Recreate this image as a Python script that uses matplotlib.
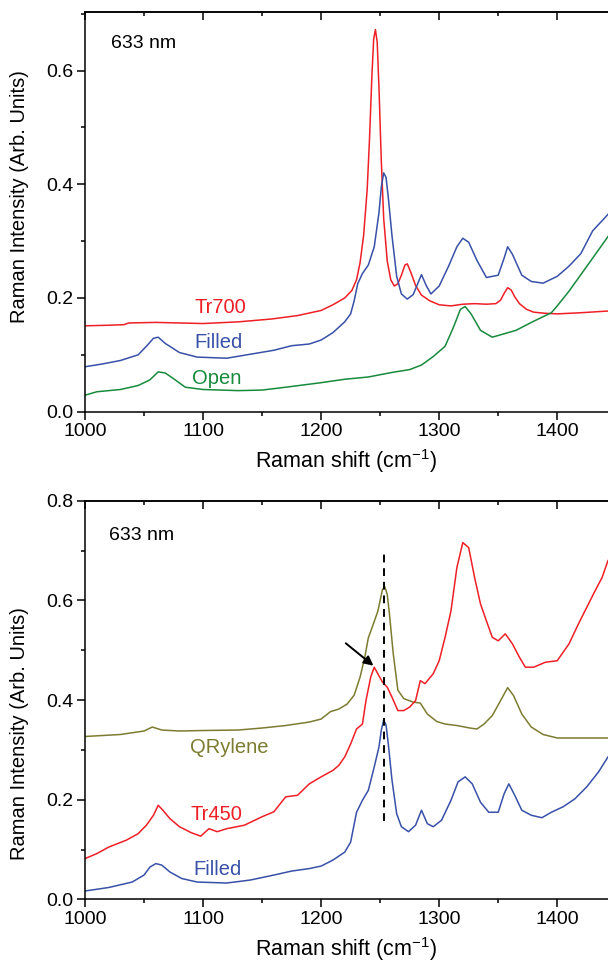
import matplotlib
matplotlib.use('Agg')
import matplotlib.pyplot as plt
from matplotlib.ticker import MultipleLocator

plt.rcParams['font.family'] = ['Liberation Sans', 'DejaVu Sans']
plt.rcParams['mathtext.fontset'] = 'custom'
plt.rcParams['mathtext.rm'] = 'Liberation Sans'

# ---- top panel: 633 nm, Tr700 / Filled / Open ----
tr700_x = [1000, 1020, 1033, 1037, 1060, 1100, 1130, 1158, 1180, 1200, 1210, 1220, 1226,
           1230, 1233, 1236, 1239, 1241, 1243, 1244.5, 1246, 1247.5, 1249, 1251, 1253,
           1256, 1259, 1262, 1265, 1268, 1271, 1273, 1276, 1280, 1285, 1292, 1300, 1310,
           1320, 1330, 1340, 1348, 1352, 1355, 1358, 1361, 1364, 1368, 1374, 1380, 1390,
           1400, 1420, 1443]
tr700_y = [0.151, 0.152, 0.153, 0.156, 0.157, 0.155, 0.158, 0.163, 0.169, 0.178, 0.188,
           0.200, 0.213, 0.232, 0.262, 0.310, 0.390, 0.480, 0.590, 0.655, 0.672, 0.650,
           0.570, 0.440, 0.340, 0.265, 0.232, 0.221, 0.225, 0.240, 0.258, 0.260, 0.245,
           0.222, 0.205, 0.195, 0.188, 0.186, 0.189, 0.190, 0.189, 0.190, 0.196, 0.208,
           0.218, 0.214, 0.202, 0.190, 0.180, 0.175, 0.173, 0.172, 0.174, 0.177]

filled_top_x = [1000, 1015, 1030, 1045, 1052, 1058, 1062, 1068, 1080, 1095, 1120, 1140,
                1160, 1175, 1190, 1200, 1210, 1220, 1225, 1228, 1231, 1235, 1240, 1245,
                1249, 1251, 1253, 1255, 1257, 1260, 1264, 1268, 1273, 1278, 1282, 1285,
                1289, 1293, 1300, 1308, 1315, 1320, 1325, 1332, 1340, 1350, 1355, 1358,
                1362, 1370, 1378, 1388, 1400, 1410, 1420, 1430, 1443]
filled_top_y = [0.079, 0.084, 0.090, 0.100, 0.115, 0.129, 0.131, 0.120, 0.104, 0.096,
                0.094, 0.101, 0.108, 0.116, 0.119, 0.126, 0.139, 0.158, 0.172, 0.195,
                0.225, 0.243, 0.258, 0.290, 0.350, 0.395, 0.420, 0.412, 0.375, 0.310,
                0.238, 0.207, 0.198, 0.206, 0.226, 0.241, 0.222, 0.207, 0.221, 0.256,
                0.290, 0.305, 0.298, 0.266, 0.236, 0.240, 0.270, 0.290, 0.277, 0.240,
                0.229, 0.226, 0.238, 0.256, 0.278, 0.318, 0.347]

open_x = [1000, 1010, 1030, 1045, 1055, 1062, 1068, 1075, 1085, 1100, 1130, 1150, 1170,
          1200, 1220, 1240, 1260, 1275, 1285, 1295, 1305, 1312, 1318, 1322, 1327, 1335,
          1345, 1355, 1365, 1380, 1395, 1400, 1410, 1420, 1430, 1443]
open_y = [0.029, 0.035, 0.039, 0.046, 0.056, 0.070, 0.068, 0.058, 0.043, 0.039, 0.037,
          0.038, 0.043, 0.051, 0.057, 0.061, 0.069, 0.074, 0.082, 0.097, 0.115, 0.148,
          0.180, 0.185, 0.172, 0.143, 0.131, 0.137, 0.143, 0.159, 0.174, 0.186, 0.212,
          0.241, 0.270, 0.308]

# ---- bottom panel: 633 nm, QRylene / Tr450 / Filled ----
qrylene_x = [1000, 1030, 1050, 1057, 1065, 1080, 1100, 1130, 1150, 1170, 1190, 1200,
             1208, 1215, 1222, 1228, 1233, 1237, 1240, 1244, 1248, 1250, 1252, 1254,
             1256, 1258, 1261, 1265, 1270, 1278, 1284, 1290, 1298, 1305, 1315, 1326,
             1332, 1338, 1345, 1352, 1358, 1363, 1370, 1378, 1388, 1400, 1420, 1443]
qrylene_y = [0.327, 0.331, 0.338, 0.346, 0.340, 0.338, 0.339, 0.340, 0.344, 0.349,
             0.356, 0.362, 0.377, 0.382, 0.392, 0.410, 0.446, 0.486, 0.525, 0.551,
             0.578, 0.600, 0.622, 0.627, 0.612, 0.570, 0.495, 0.420, 0.403, 0.396,
             0.394, 0.372, 0.357, 0.352, 0.349, 0.344, 0.342, 0.352, 0.369, 0.399,
             0.425, 0.409, 0.372, 0.346, 0.331, 0.324, 0.324, 0.324]

tr450_x = [1000, 1010, 1020, 1035, 1045, 1052, 1058, 1062, 1066, 1072, 1080, 1090, 1098,
           1105, 1112, 1120, 1135, 1150, 1160, 1170, 1180, 1190, 1200, 1210, 1215, 1220,
           1225, 1230, 1235, 1238, 1242, 1245, 1248, 1252, 1256, 1260, 1265, 1270, 1275,
           1280, 1284, 1288, 1295, 1300, 1305, 1310, 1315, 1320, 1325, 1330, 1335, 1340,
           1345, 1350, 1356, 1362, 1368, 1373, 1380, 1390, 1400, 1410, 1418, 1425, 1432,
           1438, 1443]
tr450_y = [0.082, 0.092, 0.105, 0.119, 0.132, 0.149, 0.169, 0.189, 0.179, 0.162, 0.146,
           0.134, 0.127, 0.142, 0.136, 0.142, 0.149, 0.166, 0.176, 0.206, 0.209, 0.232,
           0.246, 0.259, 0.269, 0.286, 0.312, 0.342, 0.352, 0.399, 0.446, 0.466, 0.453,
           0.436, 0.426, 0.406, 0.379, 0.379, 0.386, 0.399, 0.439, 0.433, 0.453, 0.479,
           0.526, 0.579, 0.666, 0.716, 0.706, 0.646, 0.593, 0.559, 0.526, 0.519, 0.533,
           0.513, 0.486, 0.466, 0.466, 0.476, 0.479, 0.513, 0.553, 0.586, 0.619, 0.646,
           0.680]

filled_bot_x = [1000, 1020, 1040, 1050, 1055, 1060, 1065, 1072, 1082, 1095, 1120, 1140,
                1160, 1175, 1190, 1200, 1210, 1220, 1225, 1230, 1235, 1240, 1245, 1249,
                1251, 1253, 1255, 1257, 1260, 1264, 1268, 1274, 1280, 1285, 1290, 1295,
                1302, 1310, 1316, 1322, 1328, 1335, 1342, 1350, 1355, 1359, 1364, 1370,
                1378, 1387, 1395, 1405, 1415, 1425, 1435, 1443]
filled_bot_y = [0.017, 0.024, 0.035, 0.049, 0.065, 0.072, 0.069, 0.055, 0.042, 0.035,
                0.033, 0.039, 0.049, 0.057, 0.062, 0.067, 0.079, 0.095, 0.115, 0.175,
                0.199, 0.219, 0.266, 0.306, 0.340, 0.360, 0.350, 0.310, 0.240, 0.172,
                0.146, 0.136, 0.149, 0.179, 0.152, 0.146, 0.159, 0.199, 0.236, 0.246,
                0.232, 0.195, 0.175, 0.175, 0.212, 0.232, 0.209, 0.179, 0.169, 0.164,
                0.175, 0.186, 0.202, 0.226, 0.256, 0.286]

RED = '#EE1F26'
BLUE = '#3850A8'
GREEN = '#178A3C'
OLIVE = '#7C7C30'

fig = plt.figure(figsize=(6.08, 9.65), dpi=100)
ax1 = fig.add_axes([0.1398, 0.5734, 0.8602, 0.4142])
ax2 = fig.add_axes([0.1398, 0.0679, 0.8602, 0.4132])


def style(ax, ymax, ylab_pos):
    ax.set_xlim(1000, 1443)
    ax.set_ylim(0, ymax)
    ax.spines['right'].set_visible(False)
    for s in ('left', 'bottom', 'top'):
        ax.spines[s].set_linewidth(1.1)
    ax.xaxis.set_major_locator(MultipleLocator(100))
    ax.xaxis.set_minor_locator(MultipleLocator(50))
    ax.yaxis.set_major_locator(MultipleLocator(0.2))
    ax.yaxis.set_minor_locator(MultipleLocator(0.1))
    ax.yaxis.set_major_formatter(plt.FormatStrFormatter('%.1f'))
    ax.tick_params(which='both', direction='out', width=1.1, labelsize=14, pad=3,
                   top=False, right=False)
    ax.tick_params(which='major', length=5.5)
    ax.tick_params(which='minor', length=3)
    sec = ax.secondary_xaxis('top')
    sec.xaxis.set_major_locator(MultipleLocator(100))
    sec.xaxis.set_minor_locator(MultipleLocator(50))
    sec.tick_params(which='both', direction='in', width=1.1, labeltop=False)
    sec.tick_params(which='major', length=5.5)
    sec.tick_params(which='minor', length=3)
    sec.spines['top'].set_linewidth(1.1)
    ax.set_xlabel('Raman shift (cm$^{-1}$)', fontsize=15.5, labelpad=5)
    ax.set_ylabel('Raman Intensity (Arb. Units)', fontsize=14.5)
    ax.yaxis.set_label_coords(-0.107, ylab_pos)


lw = 1.1
ax1.plot(tr700_x, tr700_y, color=RED, lw=lw)
ax1.plot(filled_top_x, filled_top_y, color=BLUE, lw=lw)
ax1.plot(open_x, open_y, color=GREEN, lw=lw)
style(ax1, 0.703, 0.537)
ax1.text(1022, 0.648, '633 nm', fontsize=14, ha='left', va='center')
ax1.text(1093, 0.183, 'Tr700', color=RED, fontsize=14.5, ha='left', va='center')
ax1.text(1093, 0.122, 'Filled', color=BLUE, fontsize=14.5, ha='left', va='center')
ax1.text(1091, 0.059, 'Open', color=GREEN, fontsize=14.5, ha='left', va='center')

ax2.plot(qrylene_x, qrylene_y, color=OLIVE, lw=lw)
ax2.plot(tr450_x, tr450_y, color=RED, lw=lw)
ax2.plot(filled_bot_x, filled_bot_y, color=BLUE, lw=lw)
style(ax2, 0.8, 0.417)
ax2.plot([1253.6, 1253.6], [0.157, 0.695], color='black', lw=1.4, ls=(0, (4, 3)))
ax2.annotate('', xy=(1244.3, 0.469), xytext=(1220.9, 0.514),
             arrowprops=dict(arrowstyle='-|>', color='black', lw=1.4,
                             mutation_scale=14, shrinkA=0, shrinkB=0))
ax2.text(1020, 0.73, '633 nm', fontsize=14, ha='left', va='center')
ax2.text(1089, 0.304, 'QRylene', color=OLIVE, fontsize=14.5, ha='left', va='center')
ax2.text(1089, 0.171, 'Tr450', color=RED, fontsize=14.5, ha='left', va='center')
ax2.text(1092, 0.060, 'Filled', color=BLUE, fontsize=14.5, ha='left', va='center')

fig.savefig('out.png', dpi=100)
